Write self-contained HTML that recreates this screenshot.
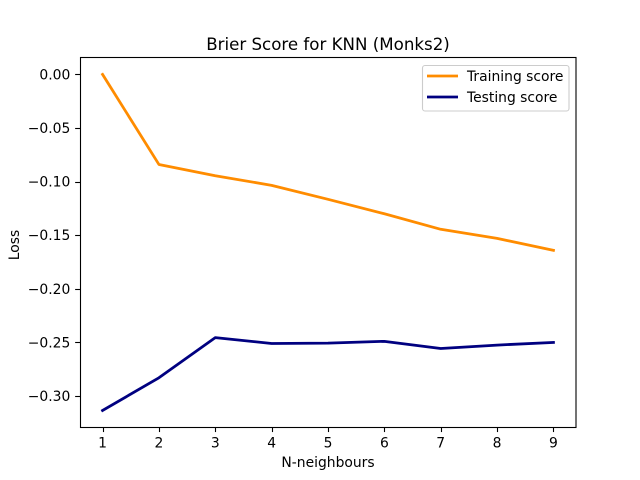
<!DOCTYPE html>
<html>
<head>
<meta charset="utf-8">
<style>
html,body{margin:0;padding:0;background:#fff;}
svg{display:block;}
text{font-family:"DejaVu Sans",sans-serif;fill:#000;font-size:13.89px;}
</style>
</head>
<body>
<svg id="chart" width="640" height="480" viewBox="0 0 640 480" xmlns="http://www.w3.org/2000/svg">
  <rect x="0" y="0" width="640" height="480" fill="#fff"/>
  <text x="328" y="50" text-anchor="middle" style="font-size:16.67px">Brier Score for KNN (Monks2)</text>
  <text x="328" y="467" text-anchor="middle">N-neighbours</text>
  <text transform="translate(19,245) rotate(-90)" text-anchor="middle">Loss</text>
  <g id="grid-layer"></g>
  <g id="series-layer"></g>
  <rect x="80.5" y="57.5" width="495.5" height="370" fill="none" stroke="#000" stroke-width="1.1"/>
  <g>
    <rect x="422.5" y="65.5" width="146.5" height="45.5" rx="2.5" fill="#fff" fill-opacity="0.8" stroke="#ccc" stroke-width="1.1"/>
    <line x1="427" y1="76" x2="458" y2="76" stroke="#ff8c00" stroke-width="2.78"/>
    <text x="467" y="81">Training score</text>
    <line x1="427" y1="97" x2="458" y2="97" stroke="#000080" stroke-width="2.78"/>
    <text x="467" y="102">Testing score</text>
  </g>
</svg>
<script>
var neighbours = [1, 2, 3, 4, 5, 6, 7, 8, 9];
var trainingScores = [0, -0.084, -0.0945, -0.1035, -0.1165, -0.130, -0.1445, -0.153, -0.1641];
var testingScores = [-0.3135, -0.283, -0.2455, -0.251, -0.2507, -0.249, -0.2557, -0.2525, -0.25];
var xTickValues = [1, 2, 3, 4, 5, 6, 7, 8, 9];
var yTickValues = [0, -0.05, -0.10, -0.15, -0.20, -0.25, -0.30];

var NS = 'http://www.w3.org/2000/svg';
var plotLeft = 80, plotRight = 576, plotTop = 57.6, plotBottom = 427.2;

function xScale(n) {
  return 102.55 + (n - 1) * (553.45 - 102.55) / 8;
}
function yScale(v) {
  return 74.4 - v * 1072;
}
function fmtY(v) {
  var s = Math.abs(v).toFixed(2);
  return v < 0 ? '\u2212' + s : s;
}

var ticks = document.getElementById('grid-layer');
xTickValues.forEach(function (t) {
  var px = Math.round(xScale(t)) + 0.5;
  var line = document.createElementNS(NS, 'line');
  
  
  line.setAttribute('x1', px);
  line.setAttribute('x2', px);
  line.setAttribute('y1', plotBottom);
  line.setAttribute('y2', plotBottom + 4.86);
  line.setAttribute('stroke', '#000');
  line.setAttribute('stroke-width', '1.1');
  ticks.appendChild(line);
  var label = document.createElementNS(NS, 'text');
  
  
  label.setAttribute('x', xScale(t));
  label.setAttribute('y', 447.5);
  label.setAttribute('text-anchor', 'middle');
  label.textContent = String(t);
  ticks.appendChild(label);
});
yTickValues.forEach(function (t) {
  var py = Math.round(yScale(t)) + 0.5;
  var line = document.createElementNS(NS, 'line');
  
  
  line.setAttribute('x1', plotLeft - 4.86);
  line.setAttribute('x2', plotLeft);
  line.setAttribute('y1', py);
  line.setAttribute('y2', py);
  line.setAttribute('stroke', '#000');
  line.setAttribute('stroke-width', '1.1');
  ticks.appendChild(line);
  var label = document.createElementNS(NS, 'text');
  
  
  label.setAttribute('x', 70.3);
  label.setAttribute('y', yScale(t) + 5);
  label.setAttribute('text-anchor', 'end');
  label.textContent = fmtY(t);
  ticks.appendChild(label);
});

function pointsFor(values) {
  return values.map(function (v, i) {
    return xScale(neighbours[i]).toFixed(2) + ',' + yScale(v).toFixed(2);
  }).join(' ');
}

var seriesLayer = document.getElementById('series-layer');

var trainingLine = document.createElementNS(NS, 'polyline');


trainingLine.setAttribute('points', pointsFor(trainingScores));
trainingLine.setAttribute('fill', 'none');
trainingLine.setAttribute('stroke', '#ff8c00');
trainingLine.setAttribute('stroke-width', '2.78');
trainingLine.setAttribute('stroke-linecap', 'square');
trainingLine.setAttribute('stroke-linejoin', 'round');
seriesLayer.appendChild(trainingLine);

var testingLine = document.createElementNS(NS, 'polyline');


testingLine.setAttribute('points', pointsFor(testingScores));
testingLine.setAttribute('fill', 'none');
testingLine.setAttribute('stroke', '#000080');
testingLine.setAttribute('stroke-width', '2.78');
testingLine.setAttribute('stroke-linecap', 'square');
testingLine.setAttribute('stroke-linejoin', 'round');
seriesLayer.appendChild(testingLine);
</script>
</body>
</html>
